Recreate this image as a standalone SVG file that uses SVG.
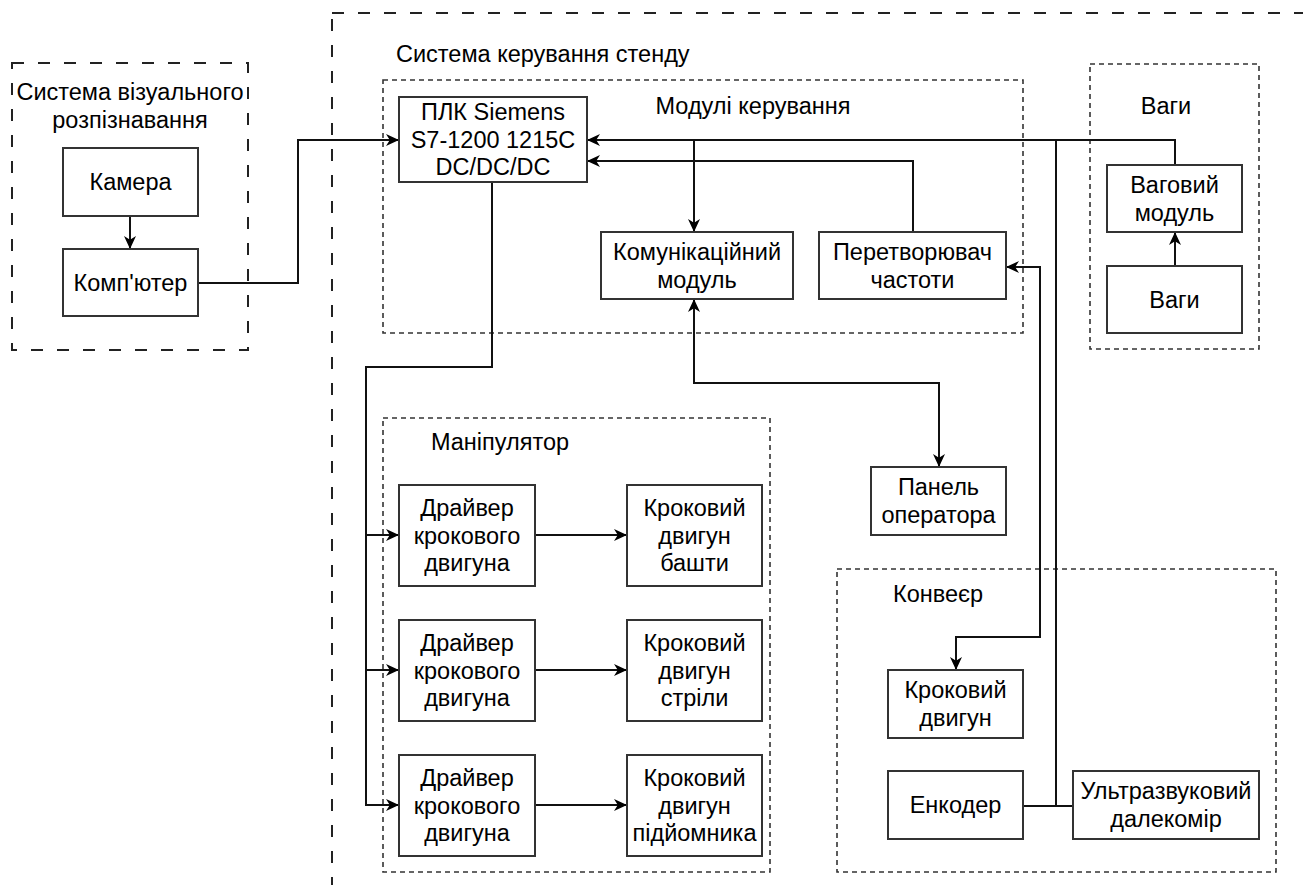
<svg xmlns="http://www.w3.org/2000/svg" width="1303" height="885" viewBox="0 0 1303 885">
<defs>
<style>
text{font-family:"Liberation Sans",Arial,sans-serif;font-size:23.5px;fill:#000;text-anchor:middle}
.lbl{text-anchor:start}
.box{fill:#fff;stroke:#333;stroke-width:2}
.outer{fill:none;stroke:#222;stroke-width:2;stroke-dasharray:12 14}
.grp{fill:none;stroke:#333;stroke-width:1.6;stroke-dasharray:5 4}
.c{fill:none;stroke:#111;stroke-width:2}
.a{marker-end:url(#arr)}
.b{marker-start:url(#arr);marker-end:url(#arr)}
</style>
<marker id="arr" viewBox="0 0 13 12" refX="13" refY="6" markerWidth="13" markerHeight="12" markerUnits="userSpaceOnUse" orient="auto-start-reverse">
<path d="M0,0 L13,6 L0,12 L3.8,6 Z" fill="#000"/>
</marker>
</defs>
<rect width="1303" height="885" fill="#fff"/>

<g id="containers">
<rect id="vision-system" class="outer" x="12" y="63" width="236" height="287"/>
<text x="130" y="100">Система візуального</text>
<text x="130" y="128">розпізнавання</text>
<rect id="control-system" class="outer" x="332" y="13" width="1010" height="910"/>
<text class="lbl" x="396" y="62">Система керування стенду</text>
<rect id="control-modules" class="grp" x="383" y="80" width="640" height="253"/>
<text x="753" y="114">Модулі керування</text>
<rect id="scales-group" class="grp" x="1090" y="64" width="169" height="285"/>
<text x="1166" y="114">Ваги</text>
<rect id="manipulator" class="grp" x="383" y="418" width="387" height="454"/>
<text x="500" y="450">Маніпулятор</text>
<rect id="conveyor" class="grp" x="837" y="569" width="439" height="303"/>
<text x="938" y="602">Конвеєр</text>
</g>

<g id="connectors">
<path class="c a" d="M130,216 V249"/>
<path class="c a" d="M198,283 H298 V140 H399"/>
<path class="c a" d="M1175,165 V140 H587"/>
<path class="c a" d="M694,140 V232"/>
<path class="c" d="M1056,140 V806"/>
<path class="c" d="M1023,806 H1073"/>
<path class="c a" d="M913,232 V161 H587"/>
<path class="c b" d="M1006,267 H1040 V637 H956 V670"/>
<path class="c a" d="M1175,266 V232"/>
<path class="c b" d="M694,299 V383 H939 V467"/>
<path class="c a" d="M492,182 V367 H366 V805 H399"/>
<path class="c a" d="M366,535 H399"/>
<path class="c a" d="M366,670 H399"/>
<path class="c a" d="M535,535 H627"/>
<path class="c a" d="M535,670 H627"/>
<path class="c a" d="M535,805 H627"/>
</g>

<g id="camera"><rect class="box" x="63" y="148" width="135" height="68"/><text x="130.5" y="190">Камера</text></g>
<g id="computer"><rect class="box" x="63" y="249" width="135" height="67"/><text x="130.5" y="291">Комп'ютер</text></g>
<g id="plc"><rect class="box" x="399" y="97" width="188" height="85"/><text x="493" y="120">ПЛК Siemens</text><text x="493" y="148">S7-1200 1215C</text><text x="493" y="175">DC/DC/DC</text></g>
<g id="comm-module"><rect class="box" x="601" y="232" width="192" height="67"/><text x="697" y="260">Комунікаційний</text><text x="697" y="288">модуль</text></g>
<g id="freq-converter"><rect class="box" x="819" y="232" width="187" height="67"/><text x="912.5" y="260">Перетворювач</text><text x="912.5" y="288">частоти</text></g>
<g id="weight-module"><rect class="box" x="1107" y="165" width="135" height="67"/><text x="1174.5" y="193">Ваговий</text><text x="1174.5" y="221">модуль</text></g>
<g id="scales"><rect class="box" x="1107" y="266" width="135" height="67"/><text x="1174.5" y="308">Ваги</text></g>
<g id="operator-panel"><rect class="box" x="871" y="467" width="135" height="68"/><text x="938.5" y="495">Панель</text><text x="938.5" y="523">оператора</text></g>
<g id="driver1"><rect class="box" x="399" y="485" width="136" height="101"/><text x="467" y="516">Драйвер</text><text x="467" y="543.5">крокового</text><text x="467" y="571">двигуна</text></g>
<g id="driver2"><rect class="box" x="399" y="620" width="136" height="101"/><text x="467" y="651">Драйвер</text><text x="467" y="678.5">крокового</text><text x="467" y="706">двигуна</text></g>
<g id="driver3"><rect class="box" x="399" y="755" width="136" height="101"/><text x="467" y="786">Драйвер</text><text x="467" y="813.5">крокового</text><text x="467" y="841">двигуна</text></g>
<g id="motor-tower"><rect class="box" x="627" y="485" width="135" height="101"/><text x="694.5" y="516">Кроковий</text><text x="694.5" y="543.5">двигун</text><text x="694.5" y="571">башти</text></g>
<g id="motor-boom"><rect class="box" x="627" y="620" width="135" height="101"/><text x="694.5" y="651">Кроковий</text><text x="694.5" y="678.5">двигун</text><text x="694.5" y="706">стріли</text></g>
<g id="motor-lift"><rect class="box" x="627" y="755" width="135" height="101"/><text x="694.5" y="786">Кроковий</text><text x="694.5" y="813.5">двигун</text><text x="694.5" y="841">підйомника</text></g>
<g id="conveyor-motor"><rect class="box" x="888" y="670" width="135" height="68"/><text x="955.5" y="698">Кроковий</text><text x="955.5" y="726">двигун</text></g>
<g id="encoder"><rect class="box" x="888" y="771" width="135" height="68"/><text x="955.5" y="813">Енкодер</text></g>
<g id="ultrasonic"><rect class="box" x="1073" y="771" width="186" height="68"/><text x="1166" y="799">Ультразвуковий</text><text x="1166" y="827">далекомір</text></g>
</svg>
